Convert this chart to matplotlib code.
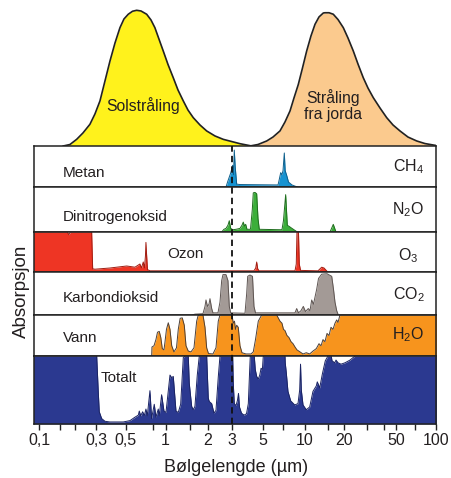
import numpy as np
import matplotlib
matplotlib.use("Agg")
import matplotlib.pyplot as plt

'''
Absorpsjon i atmosfæren - solstråling, stråling fra jorda og gassene
'''

plt.rcParams['font.family'] = ['Liberation Sans', 'DejaVu Sans']
plt.rcParams['mathtext.fontset'] = 'custom'
plt.rcParams['mathtext.rm'] = 'Liberation Sans'

# ---- data (bølgelengde i µm, absorpsjon 0..1) ----
SUN_WL = [0.1597, 0.1817, 0.2067, 0.2334, 0.267, 0.2941, 0.3214, 0.3504, 0.382, 0.4166,
          0.454, 0.4865, 0.524, 0.564, 0.606, 0.653, 0.720, 0.7757, 0.830, 0.8906,
          0.959, 1.039, 1.134, 1.226, 1.339, 1.447, 1.579, 1.765, 1.972, 2.263,
          2.597, 3.423, 4.151]
SUN_I = [0, 0.011, 0.049, 0.096, 0.160, 0.236, 0.332, 0.479, 0.626, 0.759,
         0.872, 0.936, 0.971, 0.993, 1.0, 0.995, 0.971, 0.929, 0.872, 0.788,
         0.700, 0.601, 0.503, 0.413, 0.332, 0.265, 0.209, 0.155, 0.111, 0.074,
         0.049, 0.017, 0]

EARTH_WL = [4.036, 4.606, 5.317, 5.899, 6.62, 7.19, 7.81, 8.34, 8.95, 9.596,
            10.30, 11.11, 11.93, 12.80, 13.80, 14.22, 15.27, 16.46, 17.89, 19.64,
            21.33, 23.42, 25.44, 27.92, 30.34, 33.31, 37.49, 42.17, 47.13, 53.3,
            61.38, 71.6, 82.79, 98.9]
EARTH_I = [0, 0.011, 0.037, 0.066, 0.111, 0.177, 0.258, 0.354, 0.4525, 0.575,
           0.700, 0.811, 0.897, 0.951, 0.98, 0.982, 0.982, 0.971, 0.932, 0.872,
           0.796, 0.700, 0.604, 0.503, 0.427, 0.356, 0.280, 0.209, 0.155, 0.111,
           0.066, 0.037, 0.018, 0.005]

CH4_WL = [2.716, 2.806, 2.936, 3.034, 3.075, 3.116, 3.162, 3.242, 3.423, 6.41,
          6.51, 6.70, 6.84, 6.96, 7.11, 7.21, 7.40, 7.62, 8.07, 8.81]
CH4_ABS = [0.0, 0.15, 0.34, 0.53, 0.30, 0.90, 0.50, 0.07, 0.06, 0.05,
           0.15, 0.35, 0.30, 0.40, 0.83, 0.40, 0.28, 0.12, 0.05, 0.0]

N2O_WL = [2.529, 2.627, 2.716, 2.806, 2.869, 2.936, 3.050, 3.205, 3.423, 3.538,
          3.614, 3.687, 3.760, 3.842, 4.07, 4.194, 4.262, 4.383, 4.508, 4.606,
          4.706, 6.84, 7.01, 7.27, 7.47, 7.74, 8.07, 8.81, 15.54, 16.46, 17.27]
N2O_ABS = [0.0, 0.06, 0.08, 0.15, 0.25, 0.08, 0.05, 0.06, 0.08, 0.15,
           0.22, 0.13, 0.17, 0.06, 0.06, 0.5, 0.87, 0.88, 0.85, 0.3,
           0.06, 0.05, 0.25, 0.83, 0.15, 0.12, 0.08, 0.0, 0.0, 0.17, 0.0]

O3_WL = [0.09, 0.173, 0.178, 0.183, 0.276, 0.2814, 0.294, 0.382, 0.454, 0.510,
         0.588, 0.641, 0.658, 0.679, 0.693, 0.705, 0.711, 0.720, 0.730, 0.762,
         4.311, 4.436, 4.508, 4.584, 4.683, 8.48, 8.66, 8.76, 8.98, 9.10,
         9.29, 12.58, 13.42, 13.98, 14.92]
O3_ABS = [1.0, 1.0, 0.93, 1.0, 1.0, 0.08, 0.07, 0.1, 0.13, 0.15,
          0.12, 0.2, 0.1, 0.25, 0.1, 0.4, 0.74, 0.4, 0.06, 0.03,
          0.03, 0.1, 0.25, 0.08, 0.03, 0.03, 0.2, 1.0, 1.0, 0.2,
          0.04, 0.03, 0.12, 0.1, 0.0]

CO2_WL = [1.554, 1.624, 1.855, 1.918, 1.950, 1.999, 2.049, 2.083, 2.143, 2.189,
          2.378, 2.459, 2.529, 2.584, 2.716, 2.806, 2.869, 2.936, 3.717, 3.823,
          3.887, 4.036, 4.207, 4.311, 4.420, 8.48, 8.72, 8.98, 9.36, 9.73,
          10.09, 10.60, 10.92, 11.25, 11.61, 12.29, 12.69, 13.42, 14.74, 16.01,
          16.52, 16.96, 17.48, 17.98]
CO2_ABS = [0.0, 0.02, 0.03, 0.2, 0.35, 0.2, 0.25, 0.38, 0.15, 0.05,
           0.05, 0.3, 0.8, 0.94, 0.94, 0.8, 0.2, 0.05, 0.04, 0.5,
           0.9, 0.93, 0.9, 0.2, 0.05, 0.05, 0.15, 0.05, 0.1, 0.2,
           0.08, 0.15, 0.1, 0.35, 0.25, 0.6, 0.85, 0.95, 0.96, 0.9,
           0.6, 0.3, 0.1, 0.0]

H2O_WL = [0.785, 0.789, 0.817, 0.845, 0.868, 0.895, 0.919, 0.943, 0.971, 0.9886,
          1.013, 1.044, 1.074, 1.105, 1.147, 1.196, 1.232, 1.271, 1.316, 1.361,
          1.400, 1.454, 1.521, 1.598, 1.671, 1.716, 1.855, 1.918, 1.972, 2.032,
          2.189, 2.301, 2.390, 2.459, 3.0, 3.064, 3.126, 3.178, 3.242, 3.328,
          3.423, 3.538, 3.779, 4.104, 4.262, 4.420, 4.629, 4.896, 6.27, 6.62,
          6.84, 7.01, 7.19, 7.43, 7.68, 7.94, 8.21, 8.48, 8.76, 9.21,
          9.68, 10.23, 10.86, 11.51, 12.20, 12.80, 13.26, 13.73, 14.22, 14.74,
          15.27, 15.81, 16.38, 16.96, 17.48, 17.89, 18.52, 110]
H2O_ABS = [0.0, 0.22, 0.25, 0.4, 0.58, 0.6, 0.45, 0.18, 0.15, 0.35,
           0.65, 0.81, 0.65, 0.25, 0.1, 0.2, 0.65, 0.92, 0.93, 0.75,
           0.25, 0.12, 0.1, 0.2, 0.85, 1.0, 1.0, 0.7, 0.2, 0.06,
           0.05, 0.2, 0.85, 1.0, 1.0, 0.8, 0.85, 0.65, 0.75, 0.7,
           0.25, 0.08, 0.05, 0.05, 0.1, 0.4, 0.85, 1.0, 1.0, 0.85,
           0.8, 0.65, 0.62, 0.5, 0.45, 0.35, 0.3, 0.22, 0.15, 0.1,
           0.05, 0.08, 0.05, 0.12, 0.18, 0.3, 0.25, 0.4, 0.35, 0.55,
           0.5, 0.7, 0.65, 0.8, 0.88, 0.82, 1.0, 1.0]

TOT_WL = [0.09, 0.3037, 0.312, 0.3176, 0.331, 0.3504, 0.382, 0.481, 0.540, 0.588,
          0.623, 0.634, 0.649, 0.672, 0.691, 0.711, 0.728, 0.762, 0.784, 0.821,
          0.845, 0.880, 0.895, 0.932, 0.971, 1.005, 1.074, 1.105, 1.134, 1.186,
          1.232, 1.282, 1.339, 1.377, 1.454, 1.478, 1.538, 1.579, 1.624, 1.688,
          1.745, 1.972, 2.025, 2.059, 2.143, 2.226, 2.301, 2.390, 2.459, 3.034,
          3.064, 3.116, 3.205, 3.285, 3.340, 3.395, 3.509, 3.657, 3.811, 3.927,
          4.017, 4.057, 4.332, 4.405, 4.508, 4.629, 4.744, 4.847, 4.952, 5.027,
          7.19, 7.22, 7.35, 7.55, 7.90, 8.44, 8.91, 9.16, 9.29, 9.41,
          9.68, 10.23, 10.86, 11.51, 12.20, 12.42, 12.96, 13.56, 14.30, 15.00,
          15.89, 16.09, 16.88, 17.27, 17.89, 18.86, 20.23, 22.10, 24.13, 110]
TOT_ABS = [1.0, 1.0, 0.48, 0.18, 0.08, 0.04, 0.03, 0.03, 0.05, 0.10,
           0.13, 0.19, 0.12, 0.18, 0.12, 0.22, 0.12, 0.49, 0.08, 0.29,
           0.1, 0.22, 0.12, 0.43, 0.19, 0.17, 0.72, 0.68, 0.70, 0.19,
           0.17, 0.29, 0.98, 1.0, 1.0, 0.6, 0.26, 0.21, 0.26, 0.72,
           1.0, 1.0, 0.38, 0.33, 0.30, 0.16, 0.2, 0.69, 1.0, 1.0,
           0.6, 0.3, 0.27, 0.35, 0.45, 0.25, 0.16, 0.13, 0.15, 0.3,
           0.8, 1.0, 1.0, 0.8, 0.7, 0.66, 0.72, 0.82, 0.8, 1.0,
           1.0, 0.9, 0.75, 0.48, 0.34, 0.28, 0.3, 0.5, 0.88, 0.5,
           0.28, 0.21, 0.25, 0.48, 0.56, 0.62, 0.53, 0.73, 0.93, 1.0,
           1.0, 0.93, 0.9, 0.94, 0.9, 0.88, 0.9, 0.94, 1.0, 1.0]

TICKS = [0.1, 0.3, 0.5, 1, 2, 3, 5, 10, 20, 50, 100]
TICK_LABELS = ['0,1', '0,3', '0,5', '1', '2', '3', '5', '10', '20', '50', '100']
MINOR_TICKS = [0.15, 0.2, 0.8, 1.5, 7, 15, 30, 40, 70]

# The printed axis is not quite logarithmic: each decade has its own width.
# Anchor (log10 wavelength -> axis position) pairs, linear in between.
SCALE_LOG = [-3, -1, np.log10(0.3), 0, np.log10(3), 1, 2, 4]
SCALE_POS = [-200, 39, 96, 165.7, 232, 305, 435.7, 697.1]


def fwd(x):
	x = np.clip(np.asarray(x, dtype=float), 1e-6, None)
	return np.interp(np.log10(x), SCALE_LOG, SCALE_POS)


def inv(p):
	return 10 ** np.interp(np.asarray(p, dtype=float), SCALE_POS, SCALE_LOG)


XMIN, XMAX = 0.0914, 100
TXT = '#231f20'

W, H = 452, 478
fig = plt.figure(figsize=(W / 100, H / 100), dpi=100)

LEFT, RIGHT = 34.3, 435.7


def add_axes(top, bottom):
	# pixel rows -> figure fractions
	ax = fig.add_axes([LEFT / W, 1 - bottom / H, (RIGHT - LEFT) / W, (bottom - top) / H])
	ax.set_xscale('function', functions=(fwd, inv))
	ax.set_xlim(XMIN, XMAX)
	return ax


# Top: the two emission curves
axt = add_axes(0, 146)
axt.set_ylim(0, 146 / 135.7)
axt.axis('off')
axt.fill_between(SUN_WL, SUN_I, color='#fff21c', lw=0, zorder=1)
axt.plot(SUN_WL, SUN_I, color='#222', lw=1.2, zorder=3, solid_joinstyle='round')
axt.fill_between(EARTH_WL, EARTH_I, color='#fbca8e', lw=0, zorder=2)
axt.plot(EARTH_WL, EARTH_I, color='#222', lw=1.2, zorder=3, solid_joinstyle='round')
axt.text(0.271, 0.28, 'Solstråling', transform=axt.transAxes, ha='center', va='center',
	fontsize=11.3, color=TXT)
axt.text(0.744, 0.275, 'Stråling\nfra jorda', transform=axt.transAxes, ha='center',
	va='center', fontsize=11.3, color=TXT, linespacing=1.1)

# Gas panels: (top px, bottom px, wl, abs, colour, edge, name, formula, name pos, formula y)
panels = [
	(146, 187, CH4_WL, CH4_ABS, '#1793d1', '#0d5f8c', 'Metan', r'$\mathregular{CH_4}$', (0.0715, 0.34), 0.50),
	(187, 232, N2O_WL, N2O_ABS, '#3cae3a', '#1f6d1e', 'Dinitrogenoksid', r'$\mathregular{N_2O}$', (0.0715, 0.33), 0.49),
	(232, 272, O3_WL, O3_ABS, '#ee3524', '#a01d12', 'Ozon', r'$\mathregular{O_3}$', (0.33, 0.44), 0.40),
	(272, 315, CO2_WL, CO2_ABS, '#a39a96', '#5e5552', 'Karbondioksid', r'$\mathregular{CO_2}$', (0.0715, 0.40), 0.48),
	(315, 356, H2O_WL, H2O_ABS, '#f7941d', '#4d4038', 'Vann', r'$\mathregular{H_2O}$', (0.0715, 0.44), 0.51),
	(356, 424, TOT_WL, TOT_ABS, '#2b3990', '#1a2363', 'Totalt', None, (0.166, 0.68), None),
]

for top, bottom, wl, ab, col, edge, name, formula, npos, fy in panels:
	ax = add_axes(top, bottom)
	ax.set_ylim(0, 1)
	ax.fill_between(wl, ab, color=col, lw=0, zorder=1)
	ax.plot(wl, ab, color=edge, lw=0.7, zorder=1.5)
	ax.set_yticks([])
	for s in ax.spines.values():
		s.set_color('#222')
		s.set_linewidth(1.1)
	ax.text(npos[0], npos[1], name, transform=ax.transAxes, ha='left', va='center',
		fontsize=11, color=TXT)
	if formula:
		ax.text(0.932, fy, formula, transform=ax.transAxes, ha='center', va='center',
			fontsize=11.5, color=TXT)
	if name == 'Totalt':
		ax.set_xticks(TICKS)
		ax.set_xticklabels(TICK_LABELS)
		ax.set_xticks(MINOR_TICKS, minor=True)
		ax.tick_params(axis='x', which='both', direction='out', length=4, width=1,
			color='#222', labelsize=11.5, labelcolor=TXT, pad=2.5)
	else:
		ax.set_xticks([])
		ax.set_xticks([], minor=True)

# Dashed line at 3 µm through all the panels
axd = add_axes(146, 424)
axd.axis('off')
axd.set_ylim(0, 1)
axd.axvline(3, color='#111', lw=1.3, dashes=(3.5, 2.3))

fig.text(236 / W, 1 - 467 / H, 'Bølgelengde (µm)', ha='center', va='center',
	fontsize=13, color=TXT)
fig.text(21 / W, 1 - 291.7 / H, 'Absorpsjon', ha='center', va='center', rotation=90,
	fontsize=13.5, color=TXT)

fig.savefig('out.png', dpi=100)
